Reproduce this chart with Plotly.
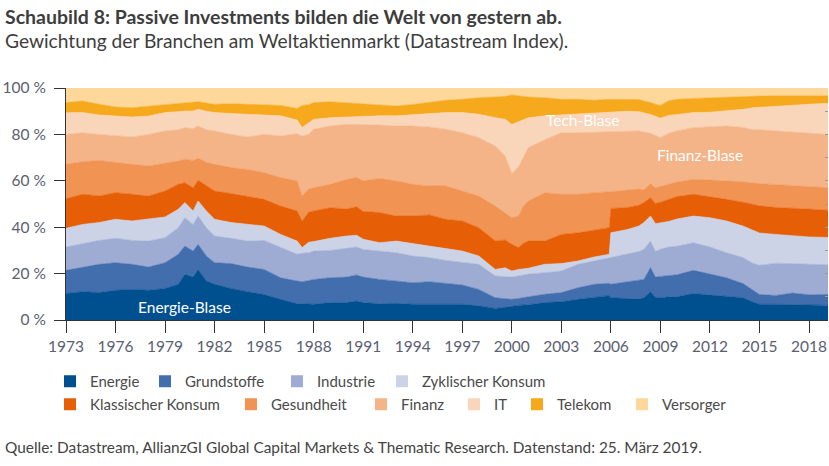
import plotly.graph_objects as go

# time points (decimal years)
dates = [1973.0, 1974.0, 1975.0, 1976.0, 1977.0, 1978.0, 1979.0, 1979.8, 1980.2, 1980.7,
         1981.0, 1981.5, 1982.0, 1983.0, 1984.0, 1985.0, 1986.0, 1987.0, 1987.3, 1987.7,
         1988.0, 1989.0, 1990.0, 1990.6, 1991.0, 1992.0, 1993.0, 1994.0, 1995.0, 1996.0,
         1997.0, 1998.0, 1999.0, 1999.6, 2000.0, 2000.4, 2000.7, 2001.0, 2002.0, 2003.0,
         2004.0, 2005.0, 2005.9, 2006.0, 2007.0, 2007.7, 2008.0, 2008.4, 2008.7, 2009.0,
         2009.5, 2010.0, 2011.0, 2012.0, 2013.0, 2014.0, 2014.6, 2015.0, 2016.0, 2017.0,
         2018.0, 2019.15]

# sector weights in % of world equity market
energie = [11.4, 12.2, 11.8, 12.8, 13.2, 12.8, 13.6, 15.4, 19.7, 18.5,
           21.8, 16.8, 15.4, 13.6, 12.2, 11.0, 8.9, 7.0, 7.0, 7.0,
           6.8, 7.5, 7.5, 8.2, 7.5, 7.0, 7.2, 6.8, 6.8, 6.8,
           6.8, 6.1, 5.0, 5.5, 6.0, 6.3, 6.5, 6.6, 7.5, 7.9,
           8.9, 9.9, 10.5, 9.6, 9.2, 9.0, 9.6, 12.2, 9.8, 9.5,
           10.0, 10.0, 11.4, 10.8, 10.3, 9.6, 7.8, 6.8, 6.8, 6.8,
           6.5, 6.3]
grundstoffe = [10.0, 10.6, 12.2, 11.9, 10.8, 10.0, 11.1, 12.9, 12.2, 11.2,
               10.8, 10.8, 9.3, 10.7, 10.6, 10.8, 9.3, 9.8, 9.5, 10.0,
               10.7, 10.7, 11.0, 11.2, 11.0, 10.5, 9.6, 9.3, 9.7, 8.9,
               8.3, 7.1, 4.6, 3.7, 2.9, 3.0, 3.0, 3.4, 3.6, 3.9,
               5.0, 5.5, 5.3, 5.8, 7.3, 8.0, 7.9, 10.4, 8.7, 9.3,
               9.0, 9.5, 10.0, 8.9, 7.9, 6.1, 5.2, 4.2, 3.8, 4.8,
               4.4, 4.7]
industrie = [10.1, 10.1, 10.3, 10.5, 10.3, 11.2, 10.8, 11.5, 12.2, 11.5,
             12.2, 12.2, 11.5, 10.9, 11.2, 12.5, 13.0, 11.5, 12.3, 12.0,
             12.2, 11.8, 12.4, 12.1, 11.9, 12.2, 12.2, 11.5, 10.4, 10.0,
             9.6, 10.8, 9.4, 9.6, 9.6, 9.7, 10.0, 9.8, 9.3, 9.3,
             10.1, 10.0, 10.7, 11.5, 12.0, 12.5, 13.0, 11.4, 11.0, 11.7,
             12.5, 12.3, 11.9, 11.8, 10.8, 11.2, 11.5, 12.6, 13.9, 12.7,
             13.3, 12.8]
zyklischer_konsum = [8.0, 8.3, 7.7, 8.2, 8.4, 9.4, 8.9, 7.9, 6.5, 5.8,
                     6.5, 7.2, 7.2, 6.8, 7.2, 6.2, 5.7, 5.7, 2.4, 4.5,
                     4.1, 5.2, 5.3, 5.0, 4.4, 3.6, 5.0, 5.3, 5.0, 4.8,
                     5.0, 3.6, 2.8, 3.7, 2.6, 2.8, 2.5, 2.5, 3.6, 3.2,
                     1.4, 1.8, 1.8, 10.7, 10.5, 11.0, 11.5, 10.8, 12.0, 11.3,
                     11.0, 11.7, 11.5, 12.6, 13.7, 13.6, 14.0, 13.9, 12.4, 11.9,
                     11.6, 11.8]
klassischer_konsum = [12.8, 13.0, 11.5, 11.5, 11.5, 10.0, 11.2, 10.8, 8.6, 10.0,
                      8.9, 10.8, 12.2, 12.5, 12.2, 11.5, 12.2, 13.0, 11.5, 13.0,
                      13.2, 13.2, 11.6, 12.3, 12.0, 13.0, 10.8, 11.9, 13.4, 12.9,
                      13.0, 12.2, 12.3, 12.0, 11.5, 9.4, 11.0, 11.7, 10.0, 12.6,
                      12.2, 11.4, 11.5, 10.5, 9.5, 9.0, 8.6, 7.9, 8.7, 9.0,
                      9.5, 9.7, 9.4, 9.1, 9.3, 10.3, 11.4, 11.7, 11.6, 11.8,
                      12.0, 11.7]
gesundheit = [14.8, 14.0, 15.3, 12.9, 12.9, 13.0, 11.8, 10.0, 10.1, 11.8,
              9.5, 10.2, 11.5, 11.2, 11.5, 11.5, 12.3, 12.9, 10.7, 10.0,
              10.0, 10.1, 12.8, 12.6, 13.2, 14.7, 15.1, 13.7, 12.5, 14.4,
              12.9, 13.6, 15.0, 11.7, 11.5, 13.6, 16.0, 17.3, 20.9, 17.3,
              16.6, 16.3, 15.2, 7.2, 7.5, 7.0, 5.4, 6.1, 6.8, 6.7,
              6.5, 6.3, 6.4, 7.1, 8.0, 8.8, 9.1, 9.6, 10.0, 10.0,
              9.7, 9.7]
finanz = [12.9, 12.5, 11.2, 11.5, 11.8, 13.6, 14.1, 13.5, 13.6, 13.7,
          13.9, 14.0, 14.4, 14.3, 14.0, 16.5, 17.9, 20.4, 25.9, 23.5,
          25.2, 25.1, 23.7, 22.9, 24.3, 23.0, 23.7, 25.1, 25.4, 24.4,
          25.1, 25.2, 25.9, 24.5, 18.9, 21.2, 21.0, 23.0, 22.8, 26.5,
          26.5, 26.1, 26.2, 25.9, 25.5, 25.0, 25.0, 21.7, 22.5, 21.1,
          22.0, 22.0, 22.3, 22.9, 23.6, 23.4, 23.0, 23.2, 23.0, 23.0,
          23.0, 23.0]
it = [9.3, 8.7, 8.4, 8.6, 8.6, 7.9, 7.9, 7.8, 7.2, 7.6,
      7.2, 8.0, 7.9, 9.0, 9.7, 8.5, 8.7, 5.9, 3.7, 5.0,
      4.3, 3.6, 3.2, 3.5, 3.7, 4.0, 4.4, 4.8, 5.7, 7.2,
      8.7, 10.1, 12.2, 15.8, 21.3, 19.5, 16.5, 12.9, 10.3, 7.7,
      8.0, 8.1, 8.2, 8.2, 8.5, 8.3, 8.4, 8.1, 8.3, 8.4,
      7.7, 7.1, 6.5, 6.4, 6.5, 7.8, 9.5, 9.7, 10.5, 11.7,
      12.5, 13.4]
telekom = [4.4, 5.0, 4.6, 3.9, 4.0, 4.3, 3.6, 3.6, 3.6, 3.8,
           3.3, 3.5, 3.6, 4.2, 4.4, 4.4, 4.5, 5.0, 9.5, 7.8,
           7.2, 6.9, 6.2, 5.6, 5.2, 4.7, 4.2, 4.5, 4.8, 5.3,
           5.7, 7.1, 8.9, 9.9, 12.7, 11.1, 9.9, 8.9, 7.8, 6.7,
           6.4, 5.6, 5.7, 5.7, 5.1, 5.2, 5.0, 5.2, 5.2, 5.5,
           6.3, 6.5, 6.1, 6.2, 5.9, 5.3, 4.8, 4.8, 4.6, 3.9,
           3.6, 3.2]
versorger = [6.3, 5.6, 7.0, 8.2, 8.5, 7.8, 7.0, 6.6, 6.3, 6.1,
             5.9, 6.5, 7.0, 6.8, 7.0, 7.1, 7.5, 8.8, 7.5, 7.2,
             6.3, 5.9, 6.3, 6.6, 6.8, 7.3, 7.8, 7.1, 6.3, 5.3,
             4.9, 4.2, 3.9, 3.6, 3.0, 3.4, 3.6, 3.9, 4.2, 4.9,
             4.9, 5.3, 4.9, 4.9, 4.9, 5.0, 5.6, 6.2, 7.0, 7.5,
             5.5, 4.9, 4.5, 4.2, 4.0, 3.9, 3.7, 3.5, 3.4, 3.4,
             3.4, 3.4]

sector_names = ["Energie", "Grundstoffe", "Industrie", "Zyklischer Konsum",
                "Klassischer Konsum", "Gesundheit", "Finanz", "IT", "Telekom", "Versorger"]
sector_values = [energie, grundstoffe, industrie, zyklischer_konsum, klassischer_konsum,
                 gesundheit, finanz, it, telekom, versorger]
sector_colors = ["#004f8f", "#436ead", "#9eacd4", "#cdd3e7", "#e65f07",
                 "#f09353", "#f4b487", "#f9d5b9", "#f6a91c", "#fdd89a"]

x_ticks = list(range(1973, 2019, 3))
y_ticks = [0, 20, 40, 60, 80, 100]

FONT = "Lato"
TXT = "#3d3d3d"

# legend layout: (left edge of marker in px, top of row in px)
legend_pos = [(65, 365), (160, 365), (292, 365), (397, 365),
              (65, 388), (246, 388), (376, 388), (469, 388), (532, 388), (637, 388)]

fig = go.Figure()
for name, vals, col in zip(sector_names, sector_values, sector_colors):
    fig.add_trace(go.Scatter(
        x=dates, y=vals, name=name, stackgroup="one", mode="lines",
        line=dict(width=0.6, color=col), fillcolor=col, showlegend=False,
        hoverinfo="x+y+name"))

# legend entries (square markers), each in its own positioned legend
legend_layouts = {}
for i, (name, col) in enumerate(zip(sector_names, sector_colors)):
    key = "legend" if i == 0 else f"legend{i + 1}"
    fig.add_trace(go.Scatter(
        x=[None], y=[None], mode="markers", name=name,
        marker=dict(symbol="square", size=12, color=col), legend=key))
    px, py = legend_pos[i]
    legend_layouts[key] = dict(
        orientation="h", xref="container", yref="container",
        xanchor="left", yanchor="top", bgcolor="rgba(0,0,0,0)",
        x=(px - 15) / 829, y=1 - py / 466,
        font=dict(family=FONT, size=15, color="#4a4a4a"),
        itemwidth=30)

# invisible trace to show the right-hand minor ticks
fig.add_trace(go.Scatter(x=[None], y=[None], yaxis="y2", showlegend=False))

fig.update_layout(
    width=829, height=466,
    margin=dict(l=66, r=1, t=88, b=146, autoexpand=False),
    paper_bgcolor="white", plot_bgcolor="white",
    font=dict(family=FONT, size=15, color=TXT),
    showlegend=True,
    xaxis=dict(range=[1973, 2019.15], tickmode="array", tickvals=x_ticks,
               ticktext=[str(t) for t in x_ticks], automargin=False,
               showline=True, linecolor="#333333", linewidth=1,
               ticks="outside", ticklen=12, tickcolor="#333333",
               showgrid=False, zeroline=False,
               tickfont=dict(family=FONT, size=15.5, color="#5a6070")),
    yaxis=dict(range=[0, 100], tickmode="array", tickvals=y_ticks,
               ticktext=[f"{t} %" for t in y_ticks], automargin=False,
               showline=True, linecolor="#333333", linewidth=1,
               ticks="outside", ticklen=11, tickcolor="#333333",
               ticklabelstandoff=5,
               showgrid=False, zeroline=False,
               tickfont=dict(family=FONT, size=15.5, color="#5a6070")),
    yaxis2=dict(range=[0, 100], overlaying="y", side="right", dtick=10,
                ticks="inside", ticklen=3, tickcolor="#9a9a9a", automargin=False,
                showticklabels=False, showline=False, showgrid=False,
                zeroline=False),
    **legend_layouts,
)

# title and subtitle
fig.add_annotation(text="<b>Schaubild 8: Passive Investments bilden die Welt von gestern ab.</b>",
                   xref="x domain", yref="y domain", x=-63 / 762, y=1 + 72 / 232,
                   xanchor="left", yanchor="middle", showarrow=False,
                   font=dict(family=FONT, size=19.5, color=TXT))
fig.add_annotation(text="Gewichtung der Branchen am Weltaktienmarkt (Datastream Index).",
                   xref="x domain", yref="y domain", x=-63 / 762, y=1 + 48 / 232,
                   xanchor="left", yanchor="middle", showarrow=False,
                   font=dict(family=FONT, size=19.2, color=TXT))
# source
fig.add_annotation(text="Quelle: Datastream, AllianzGI Global Capital Markets & Thematic Research. Datenstand: 25. März 2019.",
                   xref="x domain", yref="y domain", x=-63 / 762, y=-127 / 232,
                   xanchor="left", yanchor="middle", showarrow=False,
                   font=dict(family=FONT, size=15.4, color="#444444"))

# bubble labels
for txt, xv, yv in [("Energie-Blase", 1980.2, 5.8), ("Tech-Blase", 2004.3, 86.1),
                    ("Finanz-Blase", 2011.4, 71.3)]:
    fig.add_annotation(text=txt, x=xv, y=yv, xref="x", yref="y", showarrow=False,
                       font=dict(family=FONT, size=15.5, color="white"))

fig.write_html("out.html", config={"displayModeBar": False},
               post_script="document.body.style.margin='0';document.body.style.padding='0';")
